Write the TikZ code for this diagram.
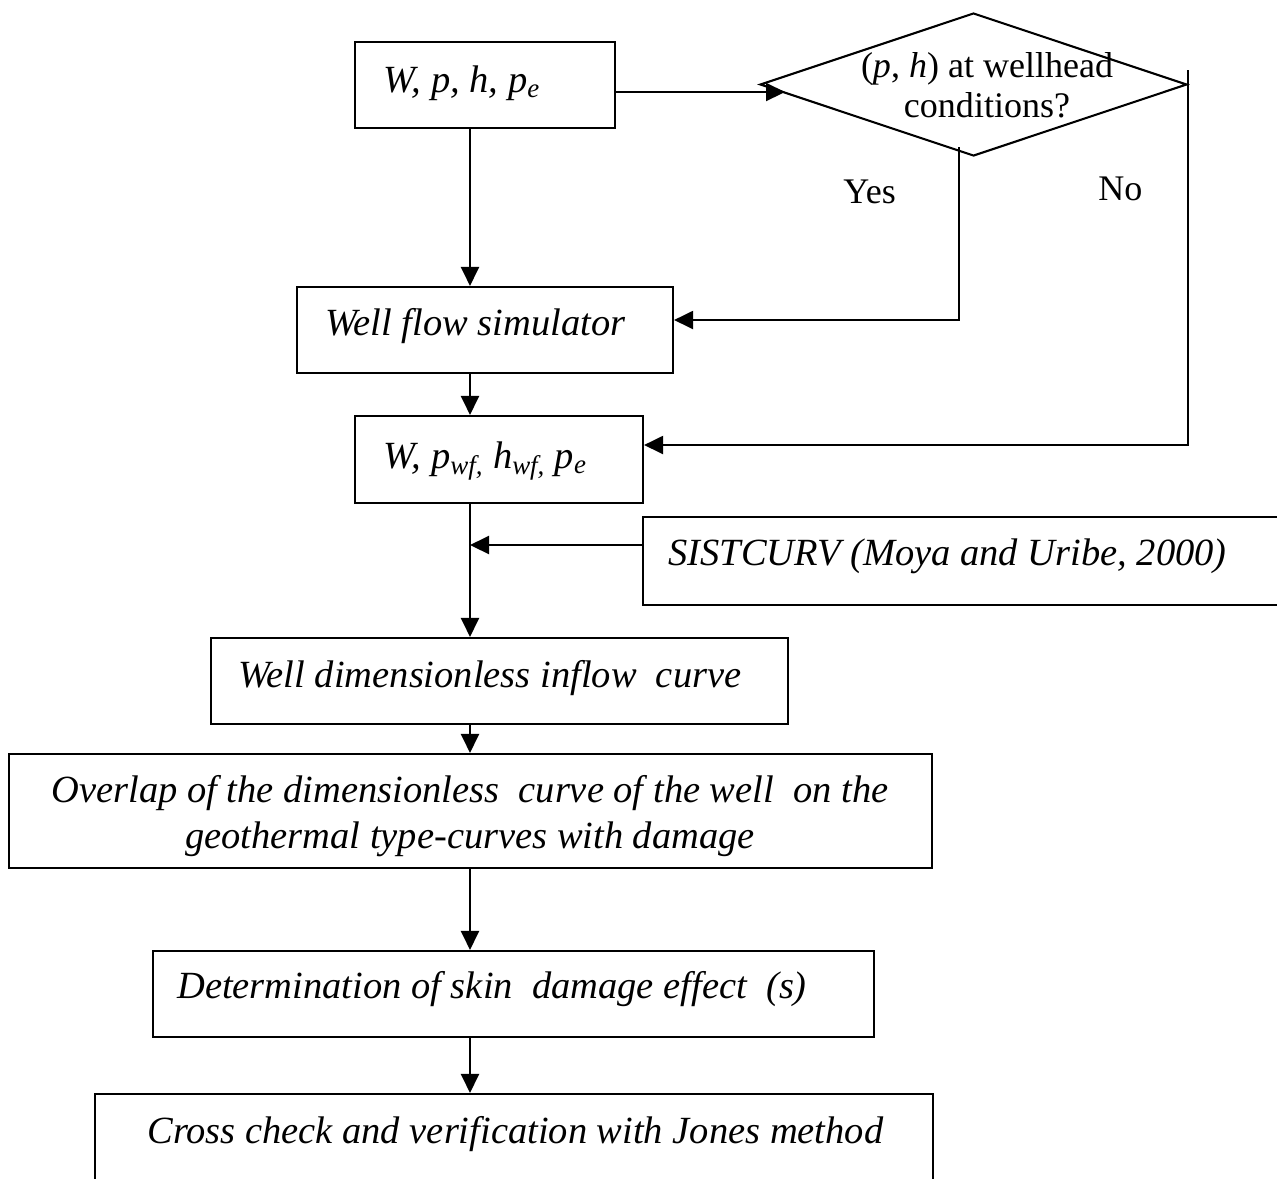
\documentclass[tikz,border=0pt]{standalone}
\usepackage{fontspec}
\setmainfont{Liberation Serif}
\usetikzlibrary{arrows.meta,fit,shapes.geometric}
\tikzset{
  boxnode/.style={draw, line width=1.2pt, inner sep=0pt, rectangle},
  arr/.style={line width=1.2pt, -{Triangle[length=0.38cm,width=0.36cm]}},
  txt/.style={inner sep=0pt, anchor=base west, font=\fontsize{21.9}{26}\selectfont\itshape},
  ctxt/.style={inner sep=0pt, anchor=base, font=\fontsize{21.9}{26}\selectfont\itshape},
  rtxt/.style={inner sep=0pt, anchor=base, font=\fontsize{20.5}{24}\selectfont},
  lbl/.style={inner sep=0pt, anchor=base west, font=\fontsize{20.5}{24}\selectfont}
}
\begin{document}
\begin{tikzpicture}[x=0.02cm,y=-0.02cm]
\useasboundingbox (0,0) rectangle (1277,1178);
\clip (0,0) rectangle (1277,1178);
\fill[white] (0,0) rectangle (1277,1178);

% boxes
\node[boxnode, fit={(355,42) (615,128)}] (b1) {};
\node[boxnode, fit={(297,287) (673,373)}] (b2) {};
\node[boxnode, fit={(355,416) (643,503)}] (b3) {};
\node[boxnode, fit={(643,517) (1300,605)}] (b8) {};
\node[boxnode, fit={(211,638) (788,724)}] (b4) {};
\node[boxnode, fit={(9,754) (932,868)}] (b5) {};
\node[boxnode, fit={(153,951) (874,1037)}] (b6) {};
\node[boxnode, fit={(95,1094) (933,1260)}] (b7) {};

% decision diamond
\node[draw, diamond, line width=1.2pt, inner sep=0pt,
      minimum width=8.54cm, minimum height=2.86cm] (dia) at (973.5,84.5) {};

% texts
\node[txt] (t1) at (383,92) {W, p, h, p\textsubscript{e}};
\node[txt] (t2) at (325,335) {Well flow simulator};
\node[txt] (t3) at (383,468) {W, p\textsubscript{wf,} h\textsubscript{wf,} p\textsubscript{e}};
\node[txt] (t8) at (668,565) {SISTCURV (Moya and Uribe, 2000)};
\node[txt] (t4) at (238,687) {Well dimensionless inflow\ \ curve};
\node[ctxt] (t5a) at (470,802) {Overlap of the dimensionless\ \ curve of the well\ \ on the};
\node[ctxt] (t5b) at (470,848) {geothermal type-curves with damage};
\node[txt] (t6) at (177,998) {Determination of skin\ \ damage effect\ \ (s)};
\node[txt] (t7) at (147,1143) {Cross check and verification with Jones method};
\node[rtxt] (d1) at (987,77) {(\textit{p}, \textit{h}) at wellhead};
\node[rtxt] (d2) at (987,117) {conditions?};
\node[lbl] (yes) at (843,203) {Yes};
\node[lbl] (no) at (1098,200) {No};

% helper coordinates
\coordinate (col) at (470,0);
\coordinate (r1) at (0,92);
\coordinate (dtip) at (785,92);
\coordinate (ys) at (959,147);
\coordinate (yc) at (959,320);
\coordinate (ns) at (1188,70);
\coordinate (nc) at (1188,445);
\coordinate (sc) at (0,545);

% connectors
\draw[arr] (b1.east |- r1) -- (dtip);
\draw[arr] (b1.south -| col) -- (b2.north -| col);
\draw[arr] (ys) -- (yc) -- (yc -| b2.east);
\draw[arr] (ns) -- (nc) -- (nc -| b3.east);
\draw[arr] (b2.south -| col) -- (b3.north -| col);
\draw[arr] (b3.south -| col) -- (b4.north -| col);
\draw[arr] (b8.west |- sc) -- (sc -| col);
\draw[arr] (b4.south -| col) -- (b5.north -| col);
\draw[arr] (b5.south -| col) -- (b6.north -| col);
\draw[arr] (b6.south -| col) -- (b7.north -| col);
\end{tikzpicture}
\end{document}
